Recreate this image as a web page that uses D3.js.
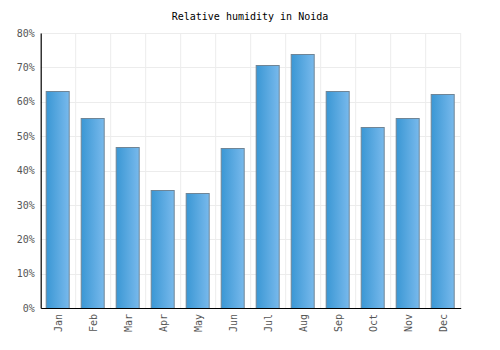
<!DOCTYPE html>
<html>
<head>
<meta charset="utf-8">
<script src="https://cdn.jsdelivr.net/npm/d3@7/dist/d3.min.js"></script>
<style>
  html, body { margin: 0; padding: 0; background: #fff; }
  svg { display: block; }
  text { font-family: "DejaVu Sans Mono", monospace; }
</style>
</head>
<body>
<svg id="chart" width="500" height="350"></svg>
<script>
const months = ["Jan", "Feb", "Mar", "Apr", "May", "Jun", "Jul", "Aug", "Sep", "Oct", "Nov", "Dec"];
const humidity = [63.1, 55.3, 46.8, 34.3, 33.5, 46.5, 70.7, 73.8, 63.0, 52.7, 55.3, 62.3];
const yTicks = [0, 10, 20, 30, 40, 50, 60, 70, 80];
const chartTitle = "Relative humidity in Noida";

const svg = d3.select("#chart");
const margin = { top: 33, right: 39.3, bottom: 42, left: 40.7 };
const width = 500 - margin.left - margin.right;
const height = 350 - margin.top - margin.bottom;

const x = d3.scaleBand().domain(months).range([0, width]).paddingInner(0.31).paddingOuter(0.155);
const bands = d3.scaleBand().domain(months).range([0, width]);
const y = d3.scaleLinear().domain([0, 80]).range([height, 0]);

const defs = svg.append("defs");
const grad = defs.append("linearGradient").attr("id", "barFill")
  .attr("x1", "0%").attr("x2", "100%").attr("y1", "0%").attr("y2", "0%");
grad.append("stop").attr("offset", "0%").attr("stop-color", "#3a97d4");
grad.append("stop").attr("offset", "100%").attr("stop-color", "#78b9ec");

svg.append("text")
  .attr("x", 250).attr("y", 20)
  .attr("text-anchor", "middle")
  .attr("font-size", 10)
  .attr("fill", "#000")
  .text(chartTitle);

const g = svg.append("g").attr("transform", `translate(${margin.left},${margin.top})`);

// grid
g.append("g").selectAll("line.h").data(yTicks.filter(d => d > 0)).join("line")
  .attr("x1", 0).attr("x2", width)
  .attr("y1", d => Math.round(y(d)) + 0.5).attr("y2", d => Math.round(y(d)) + 0.5)
  .attr("stroke", "#ececec").attr("stroke-width", 1);
g.append("g").selectAll("line.v").data(months).join("line")
  .attr("x1", d => bands(d) + bands.bandwidth()).attr("x2", d => bands(d) + bands.bandwidth())
  .attr("y1", 0).attr("y2", height)
  .attr("stroke", "#ececec").attr("stroke-width", 1);

// bars
g.append("g").selectAll("rect").data(humidity).join("rect")
  .attr("x", (d, i) => Math.round(x(months[i])) + 0.5)
  .attr("y", d => Math.round(y(d)) + 0.5)
  .attr("width", Math.round(x.bandwidth()) - 1)
  .attr("height", d => Math.round(height) - Math.round(y(d)))
  .attr("fill", "url(#barFill)")
  .attr("stroke", "#6f8596")
  .attr("stroke-width", 1);

// y axis
const yAxis = g.append("g")
  .call(d3.axisLeft(y).tickValues(yTicks).tickFormat(d => d + "%").tickSize(0).tickPadding(6));
yAxis.select(".domain").attr("stroke", "#000").attr("stroke-width", 1.2);
yAxis.selectAll("text").attr("font-size", 10).attr("fill", "#555")
  .attr("font-family", "DejaVu Sans Mono, monospace");

// x axis
const xAxis = g.append("g").attr("transform", `translate(0,${height})`)
  .call(d3.axisBottom(bands).tickSize(0).tickPadding(0));
xAxis.select(".domain").attr("stroke", "#000").attr("stroke-width", 1.2);
xAxis.selectAll("text")
  .attr("font-size", 10).attr("fill", "#555")
  .attr("font-family", "DejaVu Sans Mono, monospace")
  .attr("text-anchor", "end")
  .attr("transform", "rotate(-90)")
  .attr("x", -6).attr("y", 0).attr("dy", "0.35em");
</script>
</body>
</html>
